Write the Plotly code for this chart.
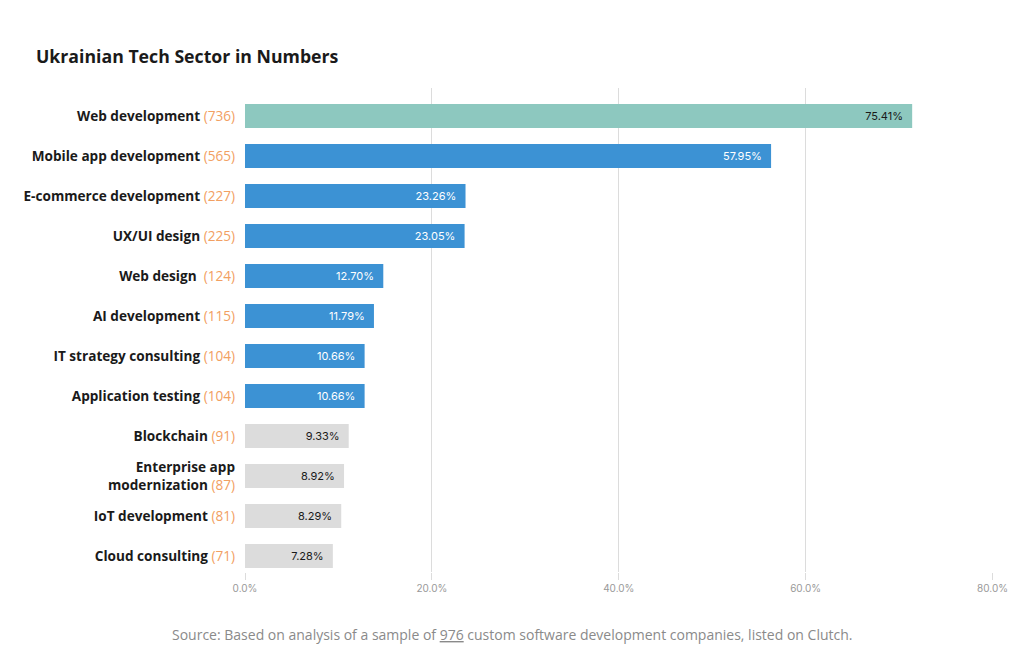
import plotly.graph_objects as go

categories = ["Web development", "Mobile app development", "E-commerce development",
              "UX/UI design", "Web design ", "AI development", "IT strategy consulting",
              "Application testing", "Blockchain", "Enterprise app<br>modernization",
              "IoT development", "Cloud consulting"]
counts = [736, 565, 227, 225, 124, 115, 104, 104, 91, 87, 81, 71]
share_labels = ["75.41%", "57.95%", "23.26%", "23.05%", "12.70%", "11.79%",
                "10.66%", "10.66%", "9.33%", "8.92%", "8.29%", "7.28%"]
bar_lengths = [71.4, 56.3, 23.6, 23.5, 14.8, 13.8, 12.8, 12.8, 11.1, 10.6, 10.3, 9.4]
groups = ["top", "mid", "mid", "mid", "mid", "mid", "mid", "mid", "low", "low", "low", "low"]
x_ticks = [0, 20, 40, 60, 80]

fill = {"top": "#8dc8bf", "mid": "#3c92d4", "low": "#dcdcdc"}
txt = {"top": "#1a1a1a", "mid": "#ffffff", "low": "#1a1a1a"}

tick_text = [f"<b>{c}</b> <span style='color:#f2a062'>({n})</span>" for c, n in zip(categories, counts)]

fig = go.Figure(go.Bar(
    x=bar_lengths,
    y=list(range(len(categories))),
    orientation="h",
    marker=dict(color=[fill[g] for g in groups], line=dict(width=0)),
    text=[s + "  " for s in share_labels],
    textposition="inside",
    insidetextanchor="end",
    textfont=dict(family="Inter, Open Sans, sans-serif", size=11,
                  color=[txt[g] for g in groups]),
    constraintext="none",
    hoverinfo="skip",
))

fig.update_layout(
    width=1024, height=666,
    margin=dict(l=245, r=31, t=88, b=94),
    paper_bgcolor="white", plot_bgcolor="white",
    bargap=0.4,
    showlegend=False,
    font=dict(family="Open Sans, sans-serif", color="#1a1a1a"),
    title=dict(text="<b>Ukrainian Tech Sector in Numbers</b>", x=36/1024, xanchor="left",
               y=1-57/666, yanchor="middle",
               font=dict(family="Open Sans, sans-serif", size=17.7, color="#1a1a1a")),
    xaxis=dict(range=[0, 80.05], tickvals=x_ticks, ticktext=[f"{v:.1f}%" for v in x_ticks],
               showgrid=True, gridcolor="#dcdcdc", gridwidth=1, zeroline=False,
               ticks="outside", ticklen=7, tickcolor="#dcdcdc",
               tickfont=dict(family="Inter, sans-serif", size=10, color="#999999"),
               showline=False, fixedrange=True),
    yaxis=dict(range=[11.4, -0.7], tickvals=list(range(len(categories))), ticktext=tick_text,
               tickfont=dict(family="Open Sans, sans-serif", size=13.6, color="#1a1a1a"),
               showgrid=False, zeroline=False, ticks="", ticklabelstandoff=9,
               showline=False, fixedrange=True),
)

fig.add_annotation(
    text="Source: Based on analysis of a sample of <u>976</u> custom software development companies, listed on Clutch.",
    xref="paper", yref="paper", x=(512-245)/(1024-245-31), y=-(634-572)/484,
    xanchor="center", yanchor="middle", showarrow=False,
    font=dict(family="Open Sans, sans-serif", size=14, color="#8a8a8a"),
)

fig.write_html("out.html")
